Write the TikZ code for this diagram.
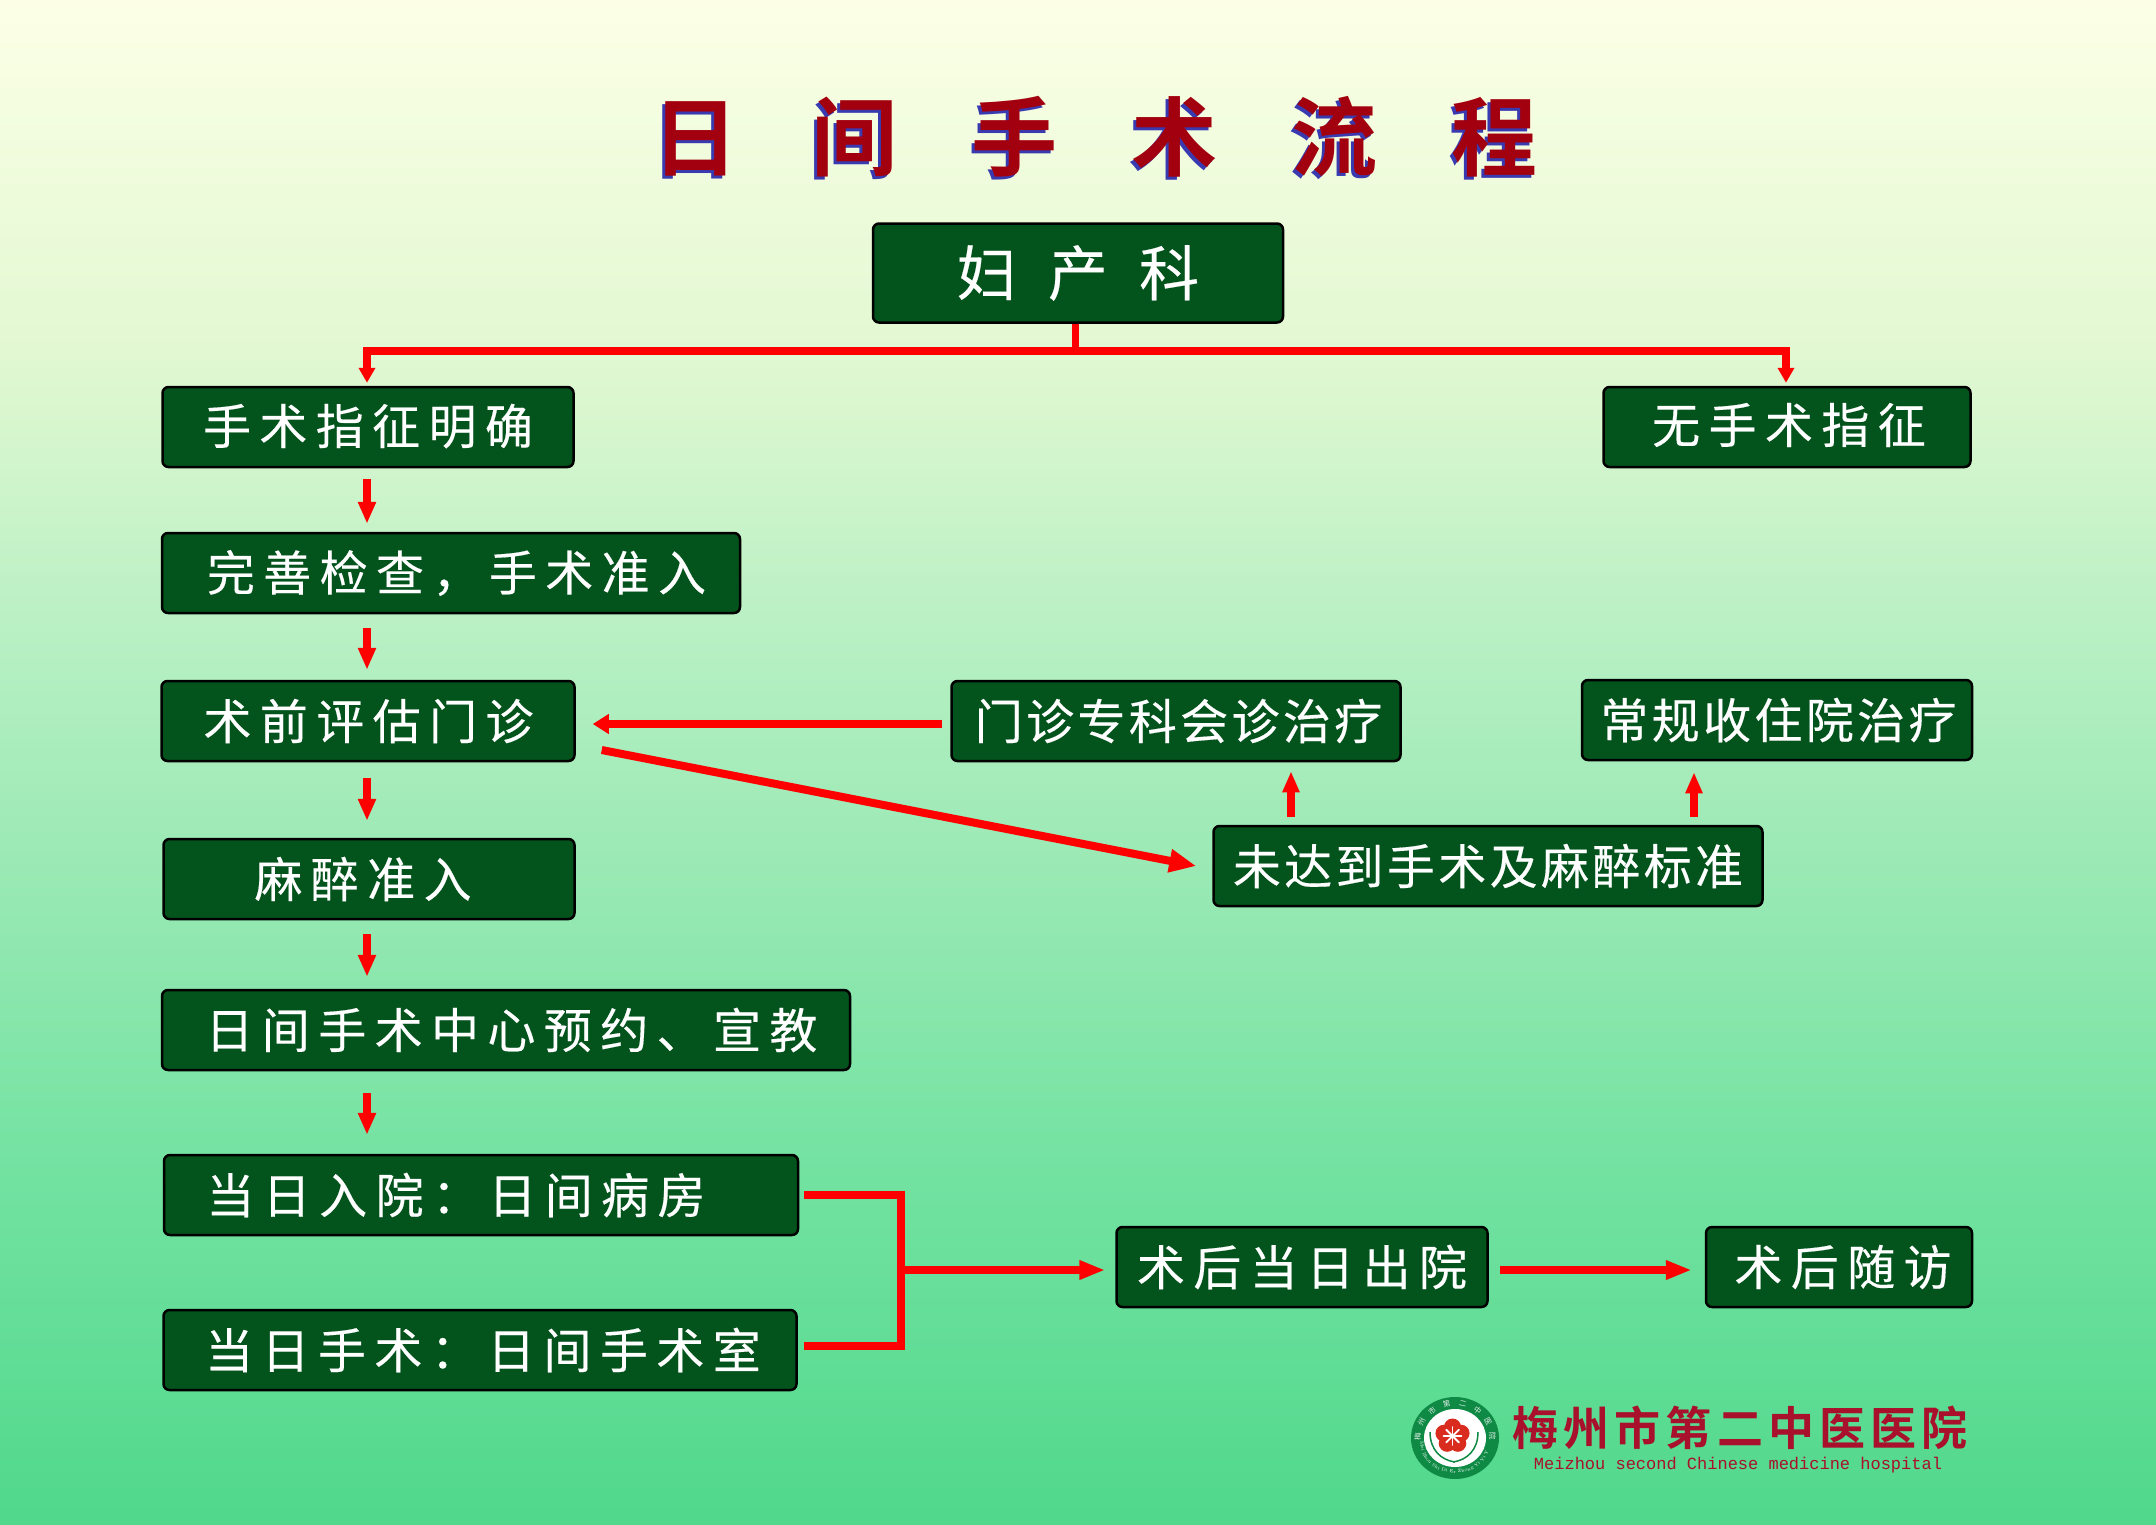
\documentclass[tikz,border=0pt]{standalone}
\usepackage{fontspec}
\usetikzlibrary{arrows.meta,decorations.text}

\newfontfamily\boxfont[LetterSpace=17.5,FakeBold=0.3]{Noto Sans CJK SC}
\newfontfamily\tightfont[LetterSpace=7,FakeBold=0.3]{Noto Sans CJK SC}
\newfontfamily\deptfont[LetterSpace=52,FakeBold=0.3]{Noto Sans CJK SC}
\newfontfamily\titlefont[LetterSpace=86,BoldFont={Noto Sans CJK SC Bold}]{Noto Sans CJK SC}
\newfontfamily\namefont[LetterSpace=11,BoldFont={Noto Sans CJK SC Bold}]{Noto Sans CJK SC}
\newfontfamily\ringfont{Noto Sans CJK SC}
\setmonofont{Liberation Mono}

\definecolor{boxgreen}{HTML}{03531D}
\definecolor{titlered}{HTML}{A3000F}
\definecolor{titleblue}{HTML}{3A3AB0}
\definecolor{namered}{HTML}{A8102C}
\definecolor{logogreen}{HTML}{0E8A45}
\definecolor{logored}{HTML}{D92B1E}
\definecolor{bgA}{HTML}{FCFFE6}
\definecolor{bgB}{HTML}{E2F8D2}
\definecolor{bgC}{HTML}{B4EFC2}
\definecolor{bgD}{HTML}{9AE9B4}
\definecolor{bgE}{HTML}{76E3A3}
\definecolor{bgF}{HTML}{50D88C}

\pgfdeclareverticalshading{bgshade}{100bp}{color(0bp)=(bgF); color(25bp)=(bgF); color(37.6bp)=(bgE); color(46.5bp)=(bgD); color(53.3bp)=(bgC); color(63.5bp)=(bgB); color(75bp)=(bgA); color(100bp)=(bgA)}

\tikzset{
  flowbox/.style={draw=black, line width=2.5pt, fill=boxgreen, text=white, rounded corners=6pt, inner sep=0pt, minimum height=80pt, font=\fontsize{48}{48}\selectfont\boxfont},
  tightbox/.style={flowbox, font=\fontsize{48}{48}\selectfont\tightfont},
  redline/.style={draw=red, line width=8pt},
  downarrow/.style={redline, -{Triangle[length=22pt,width=17pt]}},
  toparrow/.style={redline, -{Triangle[length=15pt,width=16pt]}},
  sidearrow/.style={redline, -{Triangle[length=26pt,width=18pt]}},
}

\begin{document}
\begin{tikzpicture}[x=1pt,y=-1pt]
  \useasboundingbox (0,0) rectangle (2156,1524);
  \path[shading=bgshade] (0,0) rectangle (2156,1524);

  % Title
  \node[text=titleblue, font=\fontsize{86}{86}\selectfont\titlefont\bfseries] (titleshadow) at (1092,140) {日间手术流程};
  \node[text=titlered, font=\fontsize{86}{86}\selectfont\titlefont\bfseries] (title) at (1095,137) {日间手术流程};

  % Boxes
  \node[flowbox, minimum width=410pt, minimum height=99pt, font=\fontsize{60}{60}\selectfont\deptfont] (fuchan) at (1078,273) {\raisebox{-8pt}{妇产科}};
  \node[flowbox, minimum width=411pt] (mingque) at (368,427) {\raisebox{6pt}{手术指征明确}};
  \node[flowbox, minimum width=367pt] (wuzhizheng) at (1787,427) {\hspace*{4pt}\raisebox{8pt}{无手术指征}};
  \node[flowbox, minimum width=578pt] (wanshan) at (451,573) {\hspace*{11pt}完善检查，手术准入};
  \node[flowbox, minimum width=413pt] (pinggu) at (368,721) {\hspace*{1pt}术前评估门诊};
  \node[tightbox, minimum width=449pt] (zhuanke) at (1176,721) {\hspace*{5pt}门诊专科会诊治疗};
  \node[tightbox, minimum width=390pt] (changgui) at (1777,720) {\hspace*{3pt}常规收住院治疗};
  \node[tightbox, minimum width=549pt] (weidadao) at (1488,866) {未达到手术及麻醉标准};
  \node[flowbox, minimum width=411pt] (mazui) at (369,879) {\hspace*{-12pt}麻醉准入};
  \node[flowbox, minimum width=688pt] (yuyue) at (506,1030) {\hspace*{11pt}日间手术中心预约、宣教};
  \node[flowbox, minimum width=634pt] (ruyuan) at (481,1195) {\hspace*{-50pt}\raisebox{-6pt}{当日入院：日间病房}};
  \node[flowbox, minimum width=633pt] (shoushu) at (480,1350) {\hspace*{6pt}当日手术：日间手术室};
  \node[flowbox, minimum width=371pt] (chuyuan) at (1302,1267) {术后当日出院};
  \node[flowbox, minimum width=266pt] (suifang) at (1839,1267) {\hspace*{8pt}术后随访};

  % Top branch
  \coordinate (bus) at (1075,351);
  \coordinate (spine) at (367,0);
  \draw[redline, line width=7pt] ([xshift=-3pt]fuchan.south) -- (bus);
  \draw[toparrow, shorten >=3pt] (bus) -| ([xshift=-1pt]mingque.north);
  \draw[toparrow, shorten >=3pt] (bus) -| ([xshift=-1pt]wuzhizheng.north);

  % Left column
  \draw[downarrow, shorten <=11pt, shorten >=8pt] (mingque.south -| spine) -- (wanshan.north -| spine);
  \draw[downarrow, shorten <=14pt, shorten >=10pt] (wanshan.south -| spine) -- (pinggu.north -| spine);
  \draw[downarrow, shorten <=16pt, shorten >=17pt] (pinggu.south -| spine) -- (mazui.north -| spine);
  \draw[downarrow, shorten <=14pt, shorten >=12pt] (mazui.south -| spine) -- (yuyue.north -| spine);
  \draw[downarrow, shorten <=22pt, shorten >=19pt] (yuyue.south -| spine) -- (ruyuan.north -| spine);

  % Middle arrows
  \draw[sidearrow, -{Triangle[length=16pt,width=19pt]}, shorten <=8pt, shorten >=17pt] ([yshift=-3pt]zhuanke.west) -- ([yshift=-3pt]zhuanke.west -| pinggu.east);
  \draw[sidearrow, -{Triangle[length=27pt,width=22pt]}] ([xshift=26pt,yshift=-29pt]pinggu.east) -- ([xshift=-16pt]weidadao.west);
  \draw[downarrow, -{Triangle[length=21pt,width=16pt]}, shorten <=8pt, shorten >=9pt] (weidadao.north -| zhuanke.south) ++(115pt,0) coordinate (upa) -- (upa |- zhuanke.south);
  \draw[downarrow, -{Triangle[length=21pt,width=16pt]}, shorten <=8pt, shorten >=11pt] ([xshift=-83pt]changgui.south |- weidadao.north) coordinate (upb) -- (upb |- changgui.south);

  % Bottom bracket
  \coordinate (bracket) at (901,1270);
  \coordinate (bracketend) at (901,1346);
  \draw[redline] ([xshift=5pt]ruyuan.east) -| (bracketend) -- ([xshift=6pt,yshift=4pt]shoushu.east);
  \draw[sidearrow] (bracket) -- ([xshift=-10pt,yshift=-3pt]chuyuan.west);
  \draw[sidearrow] ([xshift=11pt,yshift=-3pt]chuyuan.east) -- ([xshift=-13pt,yshift=-3pt]suifang.west);

  % Logo
  \begin{scope}[shift={(1455,1438)}]
    \fill[logogreen] (0,0) ellipse (44 and 41);
    \fill[white] (0,0) ellipse (31 and 29);
    \foreach \c [count=\i] in {梅,州,市,第,二,中,医,院}
      \node[text=white!85!logogreen, inner sep=0pt, font=\fontsize{7.5}{7.5}\selectfont\ringfont, rotate={190-\i*25+13-90}] (ring\i) at ({37.5*cos(190-\i*25+13)},{-35*sin(190-\i*25+13)}) {\c};
    \path[decorate, decoration={text along path, text align=center, text={|\fontsize{4.5}{4.5}\selectfont\color{white}|Mei Zhou Shi Di Er Zhong Yi Yi Yuan}}] (-33,14) .. controls (-24,42) and (24,42) .. (33,14);
    \draw[logogreen, line width=1.5pt] (-25,-6) .. controls (-25,12) and (-14,22) .. (0,24);
    \draw[logogreen, line width=1.5pt] (23,-6) .. controls (23,12) and (12,22) .. (-2,24);
    \foreach \a in {90,162,234,306,378}
      \fill[logored] ({-2.5+9*cos(\a)},{-2-9*sin(\a)}) circle (8.5);
    \foreach \a in {0,45,...,315}
      \draw[white, line width=1.8pt, line cap=round] (-2.5,-2) -- ++({9*cos(\a)},{9*sin(\a)});
  \end{scope}

  % Hospital name
  \node[text=namered, font=\fontsize{46}{46}\selectfont\namefont\bfseries] (hospital) at (1740,1428) {梅州市第二中医医院};
  \node[text=namered, inner sep=0pt, font=\fontsize{17}{17}\selectfont\ttfamily] (hospitalen) at (1738,1465) {Meizhou second Chinese medicine hospital};
\end{tikzpicture}
\end{document}
